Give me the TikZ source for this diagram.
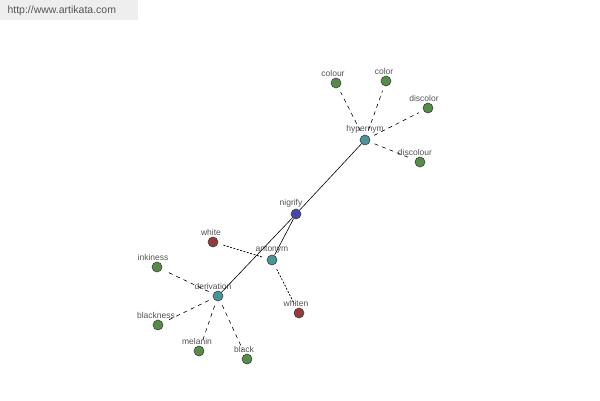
\documentclass[tikz,border=0pt]{standalone}
\usepackage{fontspec}
\setmainfont{Liberation Sans}
\definecolor{wgreen}{RGB}{84,140,72}
\definecolor{wteal}{RGB}{72,150,152}
\definecolor{wblue}{RGB}{70,72,165}
\definecolor{wred}{RGB}{150,58,62}
\definecolor{wtext}{RGB}{85,85,85}
\definecolor{wbanner}{RGB}{238,238,238}
\tikzset{
  word/.style={circle, draw=black!75, line width=0.6pt, minimum size=10pt, inner sep=0pt},
  wlabel/.style={text=wtext, font=\fontsize{8.5}{9}\selectfont, inner sep=1pt},
  rel/.style={line width=0.6pt},
  reldash/.style={line width=0.6pt, dash pattern=on 4pt off 4pt, shorten <=5pt, shorten >=5pt},
  reldot/.style={line width=0.7pt, dash pattern=on 2pt off 1.5pt, shorten <=5pt, shorten >=5pt}
}
\begin{document}
\begin{tikzpicture}[x=1pt, y=-1pt]
    \useasboundingbox[fill=white] (0,0) rectangle (600,400);

    % banner
    \fill[wbanner] (0,0) rectangle (138,20);
    \node[text=wtext, font=\fontsize{10.5}{12}\selectfont, anchor=west] (site) at (4,11) {http://www.artikata.com};

    % word nodes
    \node[word, fill=wblue, label={[wlabel, xshift=-5pt]above:nigrify}] (nigrify) at (296,214) {};
    \node[word, fill=wteal, label={[wlabel]above:hypernym}] (hypernym) at (365,140) {};
    \node[word, fill=wteal, label={[wlabel]above:antonym}] (antonym) at (272,260) {};
    \node[word, fill=wteal, label={[wlabel, xshift=-5pt]above:derivation}] (derivation) at (218,296) {};

    \node[word, fill=wgreen, label={[wlabel, xshift=-3pt]above:colour}] (colour) at (336,83) {};
    \node[word, fill=wgreen, label={[wlabel, xshift=-2pt]above:color}] (color) at (386,81) {};
    \node[word, fill=wgreen, label={[wlabel, xshift=-4pt]above:discolor}] (discolor) at (428,108) {};
    \node[word, fill=wgreen, label={[wlabel, xshift=-5pt]above:discolour}] (discolour) at (420,162) {};

    \node[word, fill=wred, label={[wlabel, xshift=-2pt]above:white}] (white) at (213,242) {};
    \node[word, fill=wred, label={[wlabel, xshift=-3pt]above:whiten}] (whiten) at (299,313) {};

    \node[word, fill=wgreen, label={[wlabel, xshift=-4pt]above:inkiness}] (inkiness) at (157,267) {};
    \node[word, fill=wgreen, label={[wlabel, xshift=-2pt]above:blackness}] (blackness) at (158,325) {};
    \node[word, fill=wgreen, label={[wlabel, xshift=-2pt]above:melanin}] (melanin) at (199,351) {};
    \node[word, fill=wgreen, label={[wlabel, xshift=-3pt]above:black}] (black) at (247,359) {};

    % relations
    \draw[rel] (nigrify) -- (hypernym);
    \draw[rel] (nigrify) -- (antonym);
    \draw[rel] (nigrify) -- (derivation);

    \foreach \w in {colour,color,discolor,discolour}
        \draw[reldash] (hypernym) -- (\w);
    \foreach \w in {white,whiten}
        \draw[reldot] (antonym) -- (\w);
    \foreach \w in {inkiness,blackness,melanin,black}
        \draw[reldash] (derivation) -- (\w);

\end{tikzpicture}
\end{document}
